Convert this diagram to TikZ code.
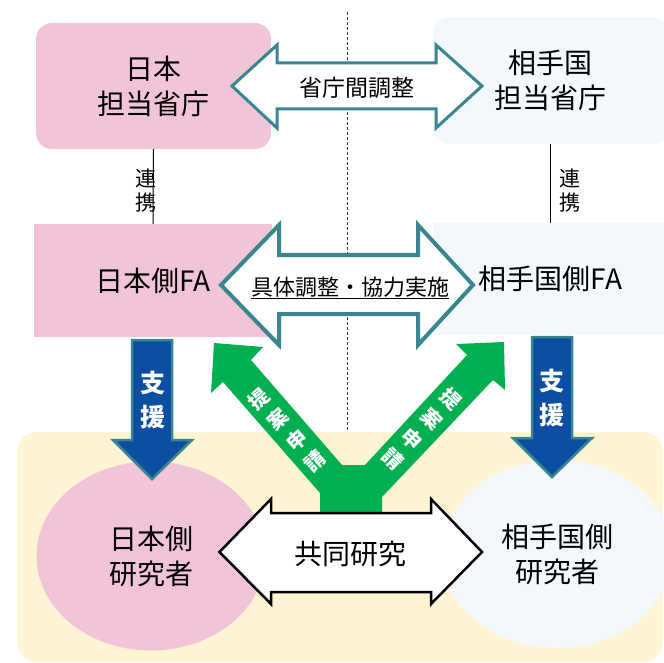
\documentclass[tikz,border=0pt]{standalone}
\usepackage{fontspec}
\setmainfont{Noto Sans CJK JP}
\usetikzlibrary{shapes.geometric}
\definecolor{pinkc}{HTML}{F2C4D8}
\definecolor{bluec}{HTML}{F3F8FC}
\definecolor{yellowc}{HTML}{FFF4D3}
\definecolor{tealc}{HTML}{3A8690}
\definecolor{navyc}{HTML}{0B4EA2}
\definecolor{greenc}{HTML}{00B050}
\tikzset{
  box/.style={inner sep=0pt, align=center, font=\fontsize{28}{35}\selectfont},
  lbl/.style={inner sep=0pt, align=center},
  teal arrow/.style={draw=tealc, fill=white, line join=miter},
  navy arrow/.style={draw=tealc, fill=navyc, line width=2.5pt, line join=miter},
  wtext/.style={inner sep=0pt, align=center, text=white, font=\bfseries\fontsize{25}{34}\selectfont},
  gtext/.style={inner sep=0pt, align=center, text=white, font=\bfseries\fontsize{20}{28}\selectfont},
}
\begin{document}
\begin{tikzpicture}[x=1pt,y=-1pt]
\useasboundingbox (0,0) rectangle (664,663);
% yellow background
\fill[yellowc, rounded corners=20pt] (17,432) rectangle (663,662);
% researchers
\node[box, ellipse, fill=pinkc, minimum width=229pt, minimum height=189pt] (jpres) at (151,556) {日本側\\研究者};
\node[box, ellipse, fill=bluec, minimum width=230pt, minimum height=188pt] (ptres) at (557,554) {相手国側\\研究者};
% ministries
\node[box, fill=pinkc, rounded corners=16pt, minimum width=235pt, minimum height=126pt] (jpmin) at (153.5,86) {日本\\担当省庁};
\node[box, fill=bluec, rounded corners=16pt, minimum width=235pt, minimum height=127pt] (ptmin) at (550.5,80.5) {相手国\\担当省庁};
% FA
\node[box, fill=pinkc, minimum width=238pt, minimum height=113pt] (jpfa) at (153,280.5) {日本側FA};
\node[box, fill=bluec, minimum width=235pt, minimum height=112pt] (ptfa) at (550.5,279) {相手国側FA};
% dashed divider
\coordinate (dtop) at (347,12);
\coordinate (dbot) at (347,432);
\draw[black!75, line width=0.8pt, dash pattern=on 3pt off 2pt] (dtop) -- (dbot);
% links
\draw[line width=1pt] (jpmin.south) -- (jpfa.north);
\draw[line width=1pt] (ptmin.south) -- (ptfa.north);
\node[lbl, font=\fontsize{21}{24}\selectfont] (jplink) at (146,191) {連\\携};
\node[lbl, font=\fontsize{21}{24}\selectfont] (ptlink) at (570,191) {連\\携};
% top double arrow
\draw[teal arrow, line width=3pt] (232,86) -- (277,45) -- (277,63) -- (436,63) -- (436,45) -- (482,86) -- (436,128) -- (436,109) -- (277,109) -- (277,128) -- cycle;
\node[lbl, font=\fontsize{23}{26}\selectfont] (mincoord) at (357,88) {省庁間調整};
% middle double arrow
\draw[teal arrow, line width=4pt] (221,285) -- (279,225) -- (279,255) -- (418,255) -- (418,225) -- (473,285) -- (418,345) -- (418,314) -- (279,314) -- (279,345) -- cycle;
\node[lbl, font=\fontsize{22}{26}\selectfont] (facoord) at (350,288) {\underline{具体調整・協力実施}};
% support arrows
\draw[navy arrow] (132,340) -- (172,340) -- (172,440) -- (192,440) -- (152,479) -- (113,440) -- (132,440) -- cycle;
\node[wtext] (jpsup) at (153,400) {支\\援};
\draw[navy arrow] (532,337) -- (572,337) -- (572,438) -- (592,438) -- (552,477) -- (513,438) -- (532,438) -- cycle;
\node[wtext] (ptsup) at (552,398) {支\\援};
% green Y arrow
\fill[greenc] (214,343) -- (263,347) -- (251,360) -- (342,465) -- (365,465) -- (467,355) -- (456,344) -- (504,342) -- (505,390) -- (493,380) -- (382,497) -- (382,514) -- (320,514) -- (320,493) -- (223,382) -- (211,393) -- cycle;
\node[gtext, rotate=42] (jpprop) at (287,430) {提\\案\\申\\請};
\node[gtext, rotate=-44] (ptprop) at (422,429) {提\\案\\申\\請};
% joint research arrow
\draw[draw=black, fill=white, line width=2.5pt, line join=miter] (219.5,552) -- (271,499) -- (271,513) -- (431,513) -- (431,499) -- (482,552) -- (431,604) -- (431,592) -- (271,592) -- (271,604) -- cycle;
\node[lbl, font=\fontsize{28}{32}\selectfont] (joint) at (350,554) {共同研究};
\end{tikzpicture}
\end{document}
